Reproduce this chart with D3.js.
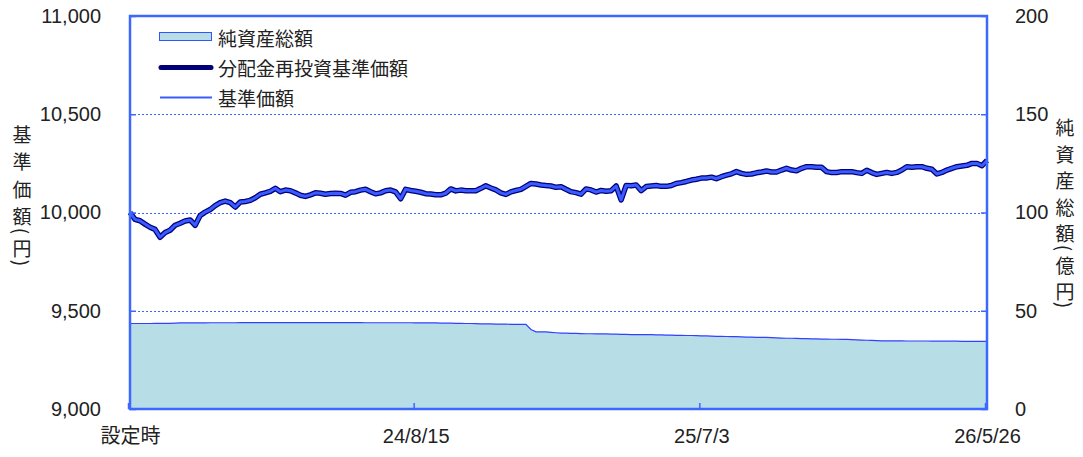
<!DOCTYPE html>
<html>
<head>
<meta charset="utf-8">
<script src="https://cdn.jsdelivr.net/npm/d3@7/dist/d3.min.js"></script>
<style>
  body { margin: 0; background: #fff; }
  text { fill: #222; }
</style>
</head>
<body>
<div id="chart"></div>
<script>
// tick labels on the category axis (index of the point they sit on)
var tickLabels = ["設定時", "24/8/15", "25/7/3", "26/5/26"];
var tickIndex = [0, 57, 114, 171];

var leftTicks = [9000, 9500, 10000, 10500, 11000];
var rightTicks = [0, 50, 100, 150, 200];

// 基準価額 (円) -- same as 分配金再投資基準価額, no distributions
var navPrice = [
  10000, 9965, 9958, 9941, 9925, 9914, 9874, 9898, 9910, 9935,
  9945, 9957, 9962, 9935, 9985, 10002, 10015, 10035, 10050, 10058,
  10050, 10028, 10053, 10056, 10062, 10075, 10093, 10100, 10108, 10123,
  10106, 10114, 10111, 10100, 10088, 10082, 10090, 10100, 10098, 10093,
  10097, 10098, 10097, 10088, 10103, 10106, 10114, 10118, 10106, 10095,
  10100, 10111, 10114, 10105, 10070, 10118, 10112, 10108, 10103, 10096,
  10094, 10090, 10090, 10098, 10120, 10110, 10114, 10111, 10111, 10111,
  10123, 10136, 10125, 10115, 10100, 10092, 10105, 10112, 10118, 10133,
  10148, 10145, 10140, 10137, 10135, 10128, 10131, 10118, 10106, 10101,
  10093, 10120, 10115, 10104, 10112, 10108, 10111, 10135, 10064, 10138,
  10136, 10140, 10111, 10132, 10135, 10137, 10133, 10133, 10137, 10148,
  10152, 10158, 10165, 10169, 10175, 10176, 10180, 10172, 10182, 10190,
  10197, 10208, 10199, 10194, 10196, 10202, 10206, 10211, 10206, 10206,
  10216, 10225, 10216, 10213, 10225, 10233, 10233, 10230, 10230, 10208,
  10203, 10204, 10208, 10208, 10208, 10203, 10199, 10215, 10203, 10194,
  10199, 10204, 10199, 10204, 10216, 10233, 10230, 10233, 10233, 10225,
  10220, 10196, 10204, 10216, 10225, 10233, 10237, 10240, 10250, 10250,
  10238, 10265
];

// 純資産総額 (億円)
var netAssets = [
  43.5, 43.5, 43.5, 43.5, 43.5, 43.6, 43.6, 43.6, 43.6, 43.7,
  43.8, 43.8, 43.8, 43.8, 43.8, 43.8, 43.9, 43.9, 43.9, 43.9,
  43.9, 43.9, 44.0, 44.0, 44.0, 44.0, 44.0, 44.0, 44.0, 44.0,
  44.0, 44.0, 44.0, 44.0, 44.0, 44.0, 44.0, 44.0, 44.0, 44.0,
  44.0, 44.0, 44.0, 44.0, 44.0, 44.0, 44.0, 43.9, 43.9, 43.9,
  43.9, 43.9, 43.9, 43.9, 43.9, 43.9, 43.9, 43.8, 43.8, 43.8,
  43.8, 43.8, 43.7, 43.7, 43.7, 43.6, 43.6, 43.5, 43.5, 43.4,
  43.3, 43.3, 43.3, 43.2, 43.2, 43.2, 43.1, 43.1, 43.1, 43.1,
  40.5, 39.3, 39.3, 39.2, 39.0, 38.8, 38.6, 38.6, 38.5, 38.5,
  38.4, 38.3, 38.3, 38.2, 38.2, 38.2, 38.1, 38.1, 38.0, 38.0,
  37.9, 37.9, 37.9, 37.8, 37.8, 37.7, 37.7, 37.6, 37.6, 37.5,
  37.5, 37.4, 37.4, 37.3, 37.2, 37.2, 37.1, 37.0, 37.0, 36.9,
  36.8, 36.8, 36.7, 36.6, 36.6, 36.5, 36.5, 36.4, 36.3, 36.2,
  36.1, 36.0, 36.0, 35.9, 35.8, 35.8, 35.7, 35.7, 35.6, 35.6,
  35.5, 35.5, 35.4, 35.4, 35.3, 35.2, 35.1, 35.0, 34.9, 34.8,
  34.7, 34.7, 34.7, 34.7, 34.7, 34.6, 34.6, 34.6, 34.6, 34.6,
  34.5, 34.5, 34.5, 34.5, 34.5, 34.5, 34.4, 34.4, 34.4, 34.4,
  34.4, 34.4
];

var leftTitle = ["基", "準", "価", "額", "(", "円", ")"];
var leftTitleY = [133, 160, 188, 215, 231, 247, 263];
var rightTitle = ["純", "資", "産", "総", "額", "(", "億", "円", ")"];
var rightTitleY = [126, 153, 179, 206, 232, 248, 264, 290, 305];

var legendNames = ["純資産総額", "分配金再投資基準価額", "基準価額"];

var blue = "#3d68ff";
var navy = "#00007a";
var lineBlue = "#3a5cff";
var areaFill = "#b7dde7";
var jpFont = "'Noto Sans CJK JP', 'Noto Sans', sans-serif";
var numFont = "'Liberation Sans', Arial, sans-serif";

function main() {
   drawChart();
}

function drawChart() {
   var margin = {top: 16, right: 96, bottom: 48, left: 130},
       width = 987 - margin.left,
       height = 409 - margin.top;

   var svg = d3.select("#chart").append("svg")
       .attr("width", 1083)
       .attr("height", 457);

   var g = svg.append("g")
       .attr("transform", "translate(" + margin.left + "," + margin.top + ")");

   var x = d3.scaleLinear()
       .domain([0, navPrice.length - 1])
       .range([0, width]);

   var yL = d3.scaleLinear()
       .domain([9000, 11000])
       .range([height, 0]);

   var yR = d3.scaleLinear()
       .domain([0, 200])
       .range([height, 0]);

   //net assets area
   var area = d3.area()
       .x(function(d, i) { return x(i); })
       .y0(height)
       .y1(function(d) { return yR(d); });

   g.append("path")
      .datum(netAssets)
      .attr("d", area)
      .attr("fill", areaFill);

   var areaTop = d3.line()
       .x(function(d, i) { return x(i); })
       .y(function(d) { return yR(d); });

   g.append("path")
      .datum(netAssets)
      .attr("d", areaTop)
      .attr("fill", "none")
      .attr("stroke", "#3340ff")
      .attr("stroke-width", 1.2);

   //dotted gridlines
   g.selectAll(".grid")
      .data(leftTicks.slice(1, 4))
      .enter().append("line")
         .attr("class", "grid")
         .attr("x1", 0)
         .attr("x2", width)
         .attr("y1", function(d) { return Math.round(yL(d)) + 0.5; })
         .attr("y2", function(d) { return Math.round(yL(d)) + 0.5; })
         .attr("stroke", blue)
         .attr("stroke-width", 1)
         .attr("stroke-dasharray", "2,2");

   //price lines
   var line = d3.line()
       .x(function(d, i) { return x(i); })
       .y(function(d) { return yL(d); });

   g.append("path")
      .datum(navPrice)
      .attr("d", line)
      .attr("fill", "none")
      .attr("stroke", navy)
      .attr("stroke-width", 5.5)
      .attr("stroke-linejoin", "round");

   g.append("path")
      .datum(navPrice)
      .attr("d", line)
      .attr("fill", "none")
      .attr("stroke", lineBlue)
      .attr("stroke-width", 3)
      .attr("stroke-linejoin", "round");

   //frame
   g.append("rect")
      .attr("x", 0)
      .attr("y", 0)
      .attr("width", width)
      .attr("height", height)
      .attr("fill", "none")
      .attr("stroke", blue)
      .attr("stroke-width", 2.5);

   //left axis
   var yAxisL = d3.axisLeft(yL)
      .tickValues(leftTicks)
      .tickFormat(d3.format(","))
      .tickSizeInner(-6)
      .tickSizeOuter(0)
      .tickPadding(29);

   var gl = g.append("g").call(yAxisL);
   gl.select(".domain").remove();
   gl.selectAll(".tick line").attr("stroke", blue).attr("stroke-width", 1.5);
   gl.selectAll(".tick text")
      .attr("font-family", numFont)
      .attr("font-size", 20)
      .style("fill", "#222");

   //right axis
   var yAxisR = d3.axisRight(yR)
      .tickValues(rightTicks)
      .tickSizeInner(-6)
      .tickSizeOuter(0)
      .tickPadding(28);

   var gr = g.append("g")
      .attr("transform", "translate(" + width + ",0)")
      .call(yAxisR);
   gr.select(".domain").remove();
   gr.selectAll(".tick line").attr("stroke", blue).attr("stroke-width", 1.5);
   gr.selectAll(".tick text")
      .attr("font-family", numFont)
      .attr("font-size", 20)
      .style("fill", "#222");

   //bottom axis
   var xAxis = d3.axisBottom(x)
      .tickValues(tickIndex)
      .tickFormat(function(d, i) { return tickLabels[i]; })
      .tickSizeInner(-6)
      .tickSizeOuter(0)
      .tickPadding(20);

   var gx = g.append("g")
      .attr("transform", "translate(0," + height + ")")
      .call(xAxis);
   gx.select(".domain").remove();
   gx.selectAll(".tick line")
      .attr("stroke", blue)
      .attr("stroke-width", 1.5)
      .attr("transform", "translate(-2,0)");
   gx.selectAll(".tick text")
      .attr("font-family", function(d, i) { return i == 0 ? jpFont : numFont; })
      .attr("font-size", 20)
      .style("fill", "#222");

   //axis titles, one character per row
   svg.selectAll(".ltitle")
      .data(leftTitle)
      .enter().append("text")
         .attr("class", "ltitle")
         .attr("text-anchor", "middle")
         .attr("dominant-baseline", "central")
         .attr("font-family", jpFont)
         .attr("font-size", 19)
         .attr("transform", function(d, i) {
            var t = "translate(22," + leftTitleY[i] + ")";
            if (d == "(" || d == ")") t += " rotate(90)";
            return t;
         })
         .text(function(d) { return d; });

   svg.selectAll(".rtitle")
      .data(rightTitle)
      .enter().append("text")
         .attr("class", "rtitle")
         .attr("text-anchor", "middle")
         .attr("dominant-baseline", "central")
         .attr("font-family", jpFont)
         .attr("font-size", 19)
         .attr("transform", function(d, i) {
            var t = "translate(1065," + rightTitleY[i] + ")";
            if (d == "(" || d == ")") t += " rotate(90)";
            return t;
         })
         .text(function(d) { return d; });

   //legend
   var lg = svg.append("g");
   lg.append("rect")
      .attr("x", 159.5)
      .attr("y", 32.5)
      .attr("width", 52)
      .attr("height", 8)
      .attr("fill", areaFill)
      .attr("stroke", "#3355ff")
      .attr("stroke-width", 1);

   lg.append("line")
      .attr("x1", 161).attr("x2", 211)
      .attr("y1", 67.5).attr("y2", 67.5)
      .attr("stroke", navy)
      .attr("stroke-width", 5)
      .attr("stroke-linecap", "round");

   lg.append("line")
      .attr("x1", 160).attr("x2", 212)
      .attr("y1", 97.5).attr("y2", 97.5)
      .attr("stroke", lineBlue)
      .attr("stroke-width", 2);

   lg.selectAll(".ltext")
      .data(legendNames)
      .enter().append("text")
         .attr("class", "ltext")
         .attr("x", 218)
         .attr("y", function(d, i) { return 37 + i * 30; })
         .attr("dominant-baseline", "central")
         .attr("font-family", jpFont)
         .attr("font-size", 19)
         .text(function(d) { return d; });
}

main();
</script>
</body>
</html>
